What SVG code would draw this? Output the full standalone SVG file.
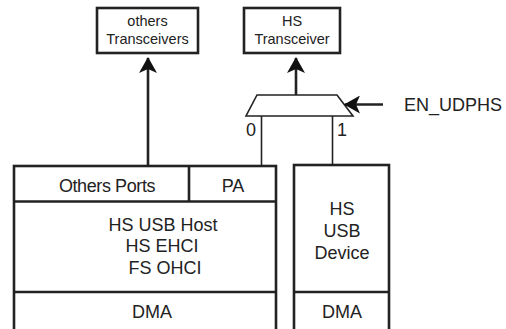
<svg xmlns="http://www.w3.org/2000/svg" width="506" height="329" viewBox="0 0 506 329">
<style>
.box{fill:#fff;stroke:#222;stroke-width:2.6}
.ln{fill:none;stroke:#222;stroke-width:2.6}
.thin{fill:none;stroke:#222;stroke-width:1.6}
.t{font-family:"Liberation Sans",Arial,sans-serif;fill:#222;text-anchor:middle}
.s{font-size:14.5px}
.m{font-size:18px}
</style>
<defs>
<marker id="ah" viewBox="0 0 16 18" refX="15" refY="9" markerWidth="16" markerHeight="18" markerUnits="userSpaceOnUse" orient="auto">
<path d="M0,0 L16,9 L0,18 L4,9 Z" fill="#111"/>
</marker>
</defs>
<rect width="506" height="329" fill="#fff"/>
<g id="others-transceivers">
<rect class="box" x="97" y="8" width="101" height="45"/>
<text class="t s" x="147.5" y="26">others</text>
<text class="t s" x="147.5" y="44">Transceivers</text>
</g>
<g id="hs-transceiver">
<rect class="box" x="244" y="8" width="96" height="45"/>
<text class="t s" x="292" y="26">HS</text>
<text class="t s" x="292" y="44">Transceiver</text>
</g>
<g id="mux">
<polygon class="thin" points="257,95 337,95 353,116 246,116"/>
<text class="t m" x="251" y="136">0</text>
<text class="t m" x="342" y="136">1</text>
</g>
<g id="host">
<rect class="box" x="14" y="166" width="262" height="175"/>
<line class="ln" x1="14" y1="201.5" x2="277" y2="201.5"/>
<line class="ln" x1="189" y1="166" x2="189" y2="201.5"/>
<line class="ln" x1="14" y1="292" x2="276" y2="292"/>
<text class="t m" x="107" y="192" letter-spacing="-0.4">Others Ports</text>
<text class="t m" x="233" y="192">PA</text>
<text class="t m" x="163" y="231">HS USB Host</text>
<text class="t m" x="162" y="252">HS EHCI</text>
<text class="t m" x="165" y="274">FS OHCI</text>
<text class="t m" x="152" y="318">DMA</text>
</g>
<g id="device">
<rect class="box" x="294" y="165" width="95" height="176"/>
<line class="ln" x1="294" y1="292" x2="389" y2="292"/>
<text class="t m" x="342" y="215">HS</text>
<text class="t m" x="342" y="237">USB</text>
<text class="t m" x="342" y="259">Device</text>
<text class="t m" x="342" y="318">DMA</text>
</g>
<g id="en-udphs">
<text class="t m" x="404" y="111" style="text-anchor:start">EN_UDPHS</text>
</g>
<g id="connectors">
<line class="ln" x1="148" y1="166" x2="148" y2="58" marker-end="url(#ah)"/>
<line class="ln" x1="296" y1="95" x2="296" y2="58" marker-end="url(#ah)"/>
<line class="ln" x1="383" y1="104.5" x2="345" y2="104.5" stroke-width="2" marker-end="url(#ah)"/>
<line class="thin" x1="261.5" y1="116" x2="261.5" y2="166"/>
<line class="thin" x1="332.5" y1="116" x2="332.5" y2="165"/>
</g>
</svg>
